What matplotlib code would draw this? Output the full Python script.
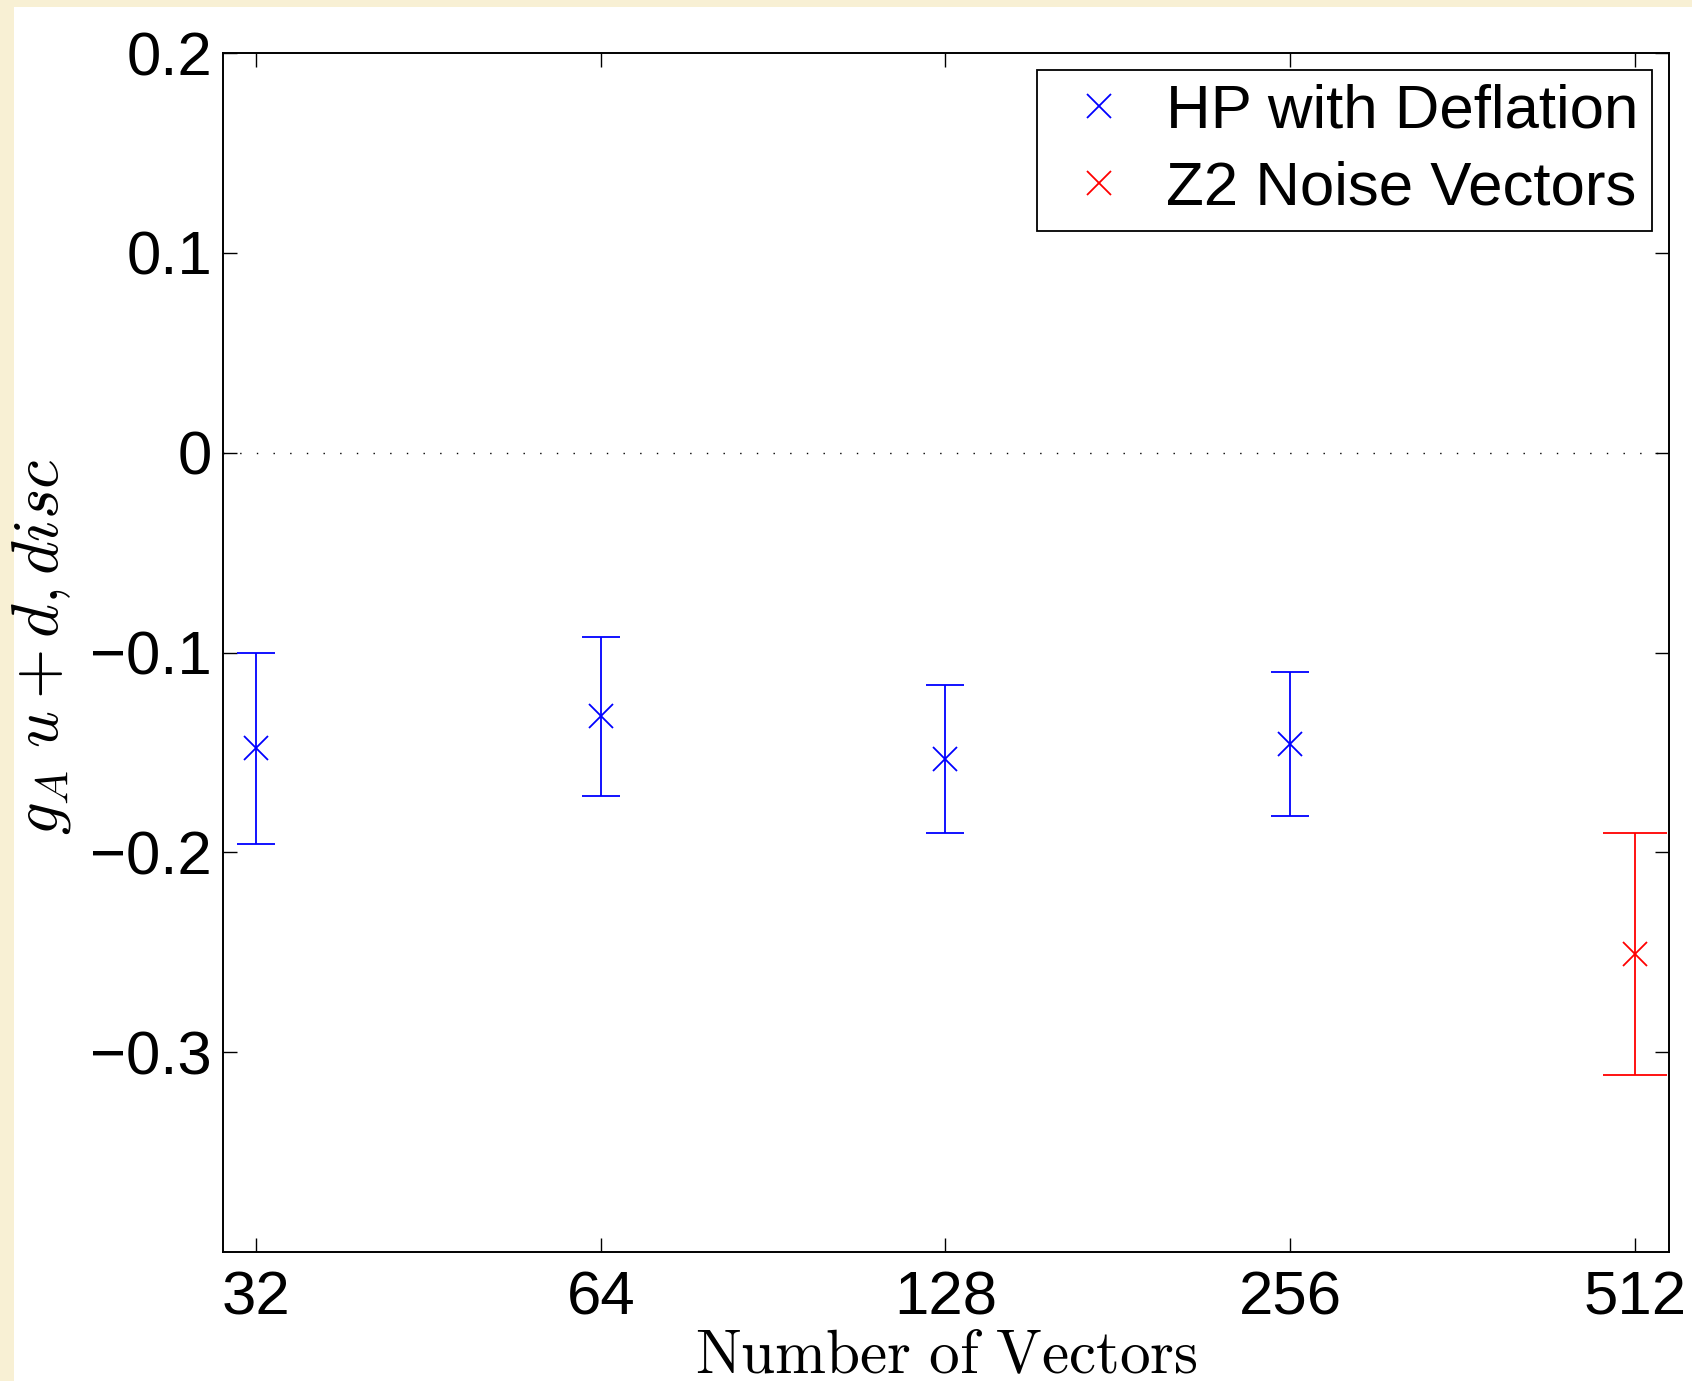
import numpy as np
import matplotlib
matplotlib.use('Agg')
import matplotlib.pyplot as plt
from matplotlib.patches import Rectangle
from matplotlib.lines import Line2D

# number of noise vectors on the x axis
vectors = [32, 64, 128, 256, 512]
tick_labels = ['32', '64', '128', '256', '512']

# hierarchical probing with deflation
hp_x = [32, 64, 128, 256]
hp_y = [-0.148, -0.132, -0.1535, -0.146]
hp_err = [0.048, 0.040, 0.037, 0.036]

# plain Z2 noise
z2_x = [512]
z2_y = [-0.251]
z2_err = [0.0605]

plt.rcParams['mathtext.fontset'] = 'cm'
plt.rcParams['font.family'] = ['Liberation Sans', 'DejaVu Sans']

W, H = 1692, 1381
fig = plt.figure(figsize=(W / 100, H / 100), dpi=100)
fig.patch.set_facecolor('#f8f0d4')
# white page area behind the axes
page = Rectangle((14 / W, 0), 1, 1 - 7 / H, transform=fig.transFigure,
                 facecolor='white', edgecolor='none', zorder=-10)
fig.patches.append(page)

ax = fig.add_axes([223 / W, 1 - 1252 / H, (1669 - 223) / W, (1252 - 53) / H])
ax.set_facecolor('white')

ax.axhline(0, color='black', ls=(0, (1, 11)), lw=1.0, zorder=1)

ax.errorbar(hp_x, hp_y, yerr=hp_err, fmt='x', color='blue', ms=17, mew=1.3,
            elinewidth=1.3, capsize=13.7, capthick=1.3)
ax.errorbar(z2_x, z2_y, yerr=z2_err, fmt='x', color='red', ms=17, mew=1.3,
            elinewidth=1.3, capsize=22.7, capthick=1.3)

ax.set_xscale('log', base=2)
ax.set_xlim(32 * 2 ** -0.096, 512 * 2 ** 0.099)
ax.set_xticks(vectors, tick_labels)
ax.xaxis.set_minor_locator(matplotlib.ticker.NullLocator())
ax.set_ylim(-0.4, 0.2)
yt = [0.2, 0.1, 0, -0.1, -0.2, -0.3]
ax.set_yticks(yt, ['0.2', '0.1', '0', '\u22120.1', '\u22120.2', '\u22120.3'])

ax.tick_params(direction='in', length=10, width=1, top=True, right=True,
               labelsize=44.5, colors='black')
ax.tick_params(axis='y', pad=8)
ax.tick_params(axis='x', pad=13)
for s in ax.spines.values():
    s.set_linewidth(1.4)

ax.set_xlabel(r'$\mathrm{Number\ of\ Vectors}$', fontsize=44)
ax.xaxis.label.set_va('baseline')
ax.xaxis.set_label_coords(0.5, -0.1009)
ax.set_ylabel(r'$g_A\ u+d, disc$', fontsize=46.5)
ax.yaxis.set_label_coords(-0.104, 0.505)

handles = [Line2D([], [], ls='none', marker='x', color='blue', ms=17, mew=1.3),
           Line2D([], [], ls='none', marker='x', color='red', ms=17, mew=1.3)]
leg = ax.legend(handles, ['HP with Deflation', 'Z2 Noise Vectors'],
                loc='upper right', fontsize=44.5, frameon=True, fancybox=False,
                framealpha=1, edgecolor='black', borderaxespad=0.27,
                borderpad=0.22, handlelength=1.55, handletextpad=0.32,
                labelspacing=0.33, numpoints=1)
leg.get_frame().set_linewidth(1.3)

fig.savefig('out.png', dpi=100, facecolor=fig.get_facecolor())
